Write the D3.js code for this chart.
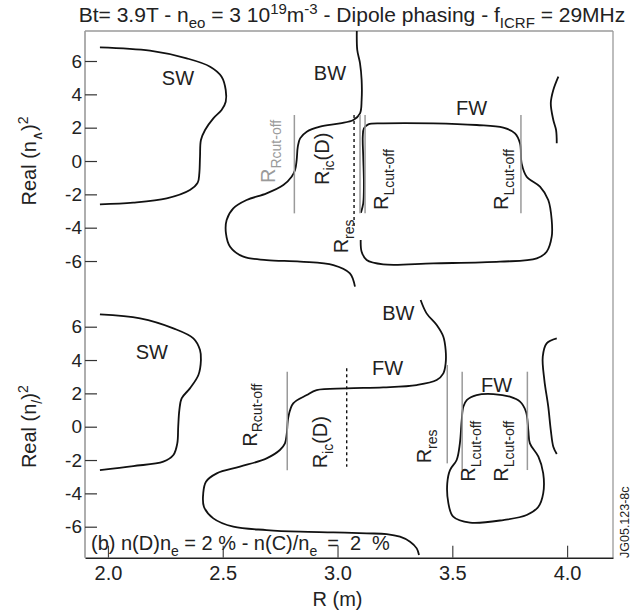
<!DOCTYPE html>
<html>
<head>
<meta charset="utf-8">
<script src="https://cdn.jsdelivr.net/npm/d3@7"></script>
<style>
  body { margin: 0; background: #fff; }
  svg { display: block; font-family: "Liberation Sans", Arial, Helvetica, sans-serif; }
</style>
</head>
<body>
<svg id="chart" width="638" height="614"></svg>
<script>
// Dispersion branches Real(n_perp^2) versus major radius R (m).
// Each branch is a list of [R, Re(n_perp^2)] samples.

// ---- panel (a): pure plasma ----
const swTop = [
  [1.965, 6.82], [2.183, 6.62], [2.343, 6.16], [2.445, 5.66], [2.495, 5.06],
  [2.513, 4.26], [2.513, 3.56], [2.495, 3.06], [2.459, 2.56], [2.423, 1.86],
  [2.405, 1.26], [2.401, 0.26], [2.398, -0.74], [2.391, -1.30], [2.357, -1.74],
  [2.256, -2.24], [2.110, -2.50], [1.965, -2.60]
];
const bwTop = [
  [3.084, 7.80], [3.086, 6.66], [3.098, 5.86], [3.105, 4.86], [3.105, 3.66],
  [3.098, 2.86], [3.069, 2.46], [3.011, 2.26], [2.924, 2.06], [2.866, 1.76],
  [2.837, 1.36], [2.827, 0.86], [2.822, 0.06], [2.815, -0.54], [2.800, -0.94],
  [2.764, -1.44], [2.691, -1.94], [2.604, -2.34], [2.546, -2.84], [2.517, -3.54],
  [2.514, -4.34], [2.532, -5.14], [2.590, -5.74], [2.691, -5.94], [2.837, -6.04],
  [2.982, -6.24], [3.054, -6.74], [3.076, -7.54]
];
const fwTop = [
  [3.102, -3.10], [3.112, -2.54], [3.115, -1.34], [3.112, 0.26], [3.110, 1.46],
  [3.115, 1.96], [3.134, 2.20], [3.199, 2.26], [3.417, 2.26], [3.606, 2.16],
  [3.722, 2.00], [3.773, 1.66], [3.795, 1.06], [3.802, -0.14], [3.824, -0.94],
  [3.882, -1.54], [3.918, -2.34], [3.933, -3.54], [3.933, -4.54], [3.911, -5.44],
  [3.868, -5.84], [3.708, -6.04], [3.417, -6.14], [3.199, -6.20], [3.127, -5.94],
  [3.105, -5.44], [3.101, -4.74]
];
const edgeTop = [
  [3.962, 5.06], [3.940, 4.26], [3.929, 3.46], [3.940, 2.46], [3.952, 1.86], [3.955, 1.06]
];

// ---- panel (b): 2% D, 2% C ----
const swBot = [
  [1.965, 6.74], [2.140, 6.50], [2.285, 5.90], [2.372, 5.30], [2.401, 4.60],
  [2.405, 4.00], [2.394, 3.10], [2.357, 2.30], [2.321, 1.70], [2.311, 1.00],
  [2.306, 0.00], [2.302, -1.00], [2.285, -1.70], [2.241, -2.10], [2.110, -2.36],
  [1.965, -2.60]
];
const bwfwBot = [
  [3.362, 7.60], [3.388, 6.80], [3.432, 6.10], [3.461, 5.40], [3.471, 4.60],
  [3.471, 3.80], [3.461, 3.20], [3.432, 2.80], [3.345, 2.50], [3.199, 2.36],
  [3.040, 2.30], [2.909, 2.20], [2.866, 1.90], [2.807, 1.40], [2.786, 0.60],
  [2.779, -0.40], [2.771, -1.00], [2.749, -1.40], [2.691, -1.90], [2.575, -2.40],
  [2.474, -2.80], [2.427, -3.30], [2.415, -4.00], [2.418, -4.80], [2.459, -5.50],
  [2.546, -6.00], [2.691, -6.20], [2.837, -6.30], [2.982, -6.34], [3.127, -6.40],
  [3.214, -6.44], [3.272, -6.60], [3.316, -6.90], [3.345, -7.30], [3.355, -7.70]
];
const fwLoopBot = [
  [3.563, 1.60], [3.606, 1.90], [3.679, 1.96], [3.751, 1.80], [3.795, 1.50],
  [3.821, 0.90], [3.831, -0.20], [3.838, -1.00], [3.875, -1.80], [3.896, -2.80],
  [3.896, -4.00], [3.875, -4.80], [3.824, -5.30], [3.722, -5.60], [3.577, -5.76],
  [3.504, -5.40], [3.483, -4.60], [3.478, -3.40], [3.490, -2.60], [3.519, -2.00],
  [3.533, -1.00], [3.541, 0.40], [3.548, 1.20]
];
const edgeBot = [
  [3.955, 5.30], [3.911, 5.00], [3.894, 4.20], [3.901, 2.80], [3.918, 1.20],
  [3.929, -0.20], [3.940, -1.20], [3.955, -1.64]
];

// Characteristic layers: [R, n2 from, n2 to]
const cutoffTop = [[2.812, 2.76, -3.14], [3.098, 2.76, -3.14], [3.120, 2.76, -3.14], [3.799, 2.76, -3.14]];
const resonTop = [[3.072, 2.76, -3.94]];
const cutoffBot = [[2.781, 3.30, -2.62], [3.478, 3.70, -2.20], [3.543, 3.30, -2.60], [3.827, 3.30, -2.60]];
const resonBot = [[3.040, 3.50, -2.40]];

const xTicks = [2.0, 2.5, 3.0, 3.5, 4.0];
const yTicks = [-6, -4, -2, 0, 2, 4, 6];

// ---- layout ----
const svg = d3.select("#chart");
const plotLeft = 85, plotRight = 613, plotTop = 31, plotBottom = 557.7;
const x = d3.scaleLinear().domain([1.9, 4.2]).range([plotLeft, plotRight]);
const yA = d3.scaleLinear().domain([-7.9, 7.8]).range([292.7, plotTop]);
const yB = d3.scaleLinear().domain([-7.86, 7.8]).range([plotBottom, 296.7]);

const GRAY = "#9a9a9a";
const FONT = 20;

// frame
svg.append("line").attr("x1", plotLeft).attr("x2", plotRight).attr("y1", plotTop).attr("y2", plotTop)
  .attr("stroke", GRAY).attr("stroke-width", 1.3);
svg.append("line").attr("x1", plotLeft).attr("x2", plotLeft).attr("y1", plotTop).attr("y2", plotBottom)
  .attr("stroke", GRAY).attr("stroke-width", 1.6);
svg.append("line").attr("x1", plotRight).attr("x2", plotRight).attr("y1", plotTop).attr("y2", plotBottom)
  .attr("stroke", GRAY).attr("stroke-width", 1.3);

// x axis with inward ticks
const xAxis = svg.append("g").attr("transform", `translate(0,${plotBottom})`)
  .call(d3.axisBottom(x).tickValues(xTicks).tickSizeInner(-12).tickSizeOuter(0)
    .tickFormat(d3.format(".1f")).tickPadding(8));
xAxis.select(".domain").attr("stroke", "#222").attr("stroke-width", 1.6);
xAxis.selectAll(".tick line").attr("stroke", "#444").attr("stroke-width", 1.2);
xAxis.selectAll(".tick text").attr("font-size", FONT).attr("fill", "#222")
  .attr("font-family", "Liberation Sans, Arial, sans-serif");

// y axes with inward ticks, one per panel
[yA, yB].forEach(y => {
  const g = svg.append("g").attr("transform", `translate(${plotLeft},0)`)
    .call(d3.axisLeft(y).tickValues(yTicks).tickSizeInner(-12).tickSizeOuter(0).tickPadding(3));
  g.select(".domain").remove();
  g.selectAll(".tick line").attr("stroke", "#333").attr("stroke-width", 1.2);
  g.selectAll(".tick text").attr("font-size", 19).attr("fill", "#222")
    .attr("font-family", "Liberation Sans, Arial, sans-serif")
    .attr("x", -3).text(d => d < 0 ? "-" + Math.abs(d) : d);
});

// curves
function branch(data, y, closed) {
  const line = d3.line().x(d => x(d[0])).y(d => y(d[1]))
    .curve(closed ? d3.curveCatmullRomClosed : d3.curveCatmullRom.alpha(0.5));
  svg.append("path").attr("d", line(data)).attr("fill", "none")
    .attr("stroke", "#111").attr("stroke-width", 1.8).attr("stroke-linejoin", "round");
}
branch(swTop, yA); branch(bwTop, yA); branch(fwTop, yA); branch(edgeTop, yA);
branch(swBot, yB); branch(bwfwBot, yB); branch(fwLoopBot, yB, true); branch(edgeBot, yB);

// cut-off (solid gray) and resonance (dashed) layers
function layers(list, y, dashed) {
  svg.selectAll(null).data(list).enter().append("line")
    .attr("x1", d => x(d[0])).attr("x2", d => x(d[0]))
    .attr("y1", d => y(d[1])).attr("y2", d => y(d[2]))
    .attr("stroke", dashed ? "#111" : GRAY)
    .attr("stroke-width", dashed ? 1.4 : 1.5)
    .attr("stroke-dasharray", dashed ? "3,3" : null);
}
layers(cutoffTop, yA, false); layers(resonTop, yA, true);
layers(cutoffBot, yB, false); layers(resonBot, yB, true);

// rich text: parts = [text, "sub"|"sup"|undefined, extra dx]
function rich(t, parts, size) {
  const sub = Math.round(size * 0.72);
  let shift = 0;
  parts.forEach(([s, kind, dx]) => {
    const target = kind === "sub" ? size * 0.28 : kind === "sup" ? -size * 0.38 : 0;
    t.append("tspan").attr("dy", target - shift).attr("dx", dx || 0)
      .attr("font-size", kind ? sub : size).text(s);
    shift = target;
  });
}

// wave names
const waveLabels = [
  ["SW", 2.305, 4.98, yA], ["BW", 2.967, 5.28, yA], ["FW", 3.584, 3.18, yA],
  ["SW", 2.191, 4.50, yB], ["BW", 3.265, 6.80, yB], ["FW", 3.218, 3.50, yB], ["FW", 3.693, 2.50, yB]
];
waveLabels.forEach(([s, r, v, y]) => {
  svg.append("text").attr("x", x(r)).attr("y", y(v)).attr("text-anchor", "middle")
    .attr("dominant-baseline", "central").attr("font-size", FONT).attr("fill", "#222").text(s);
});

// vertical layer names, anchored at the lower end of the baseline
const layerLabels = [
  [[["R"], ["Rcut-off", "sub"]], 2.728, -1.32, yA, GRAY],
  [[["R"], ["ic", "sub"], ["(D)"]], 2.961, -1.44, yA, "#222"],
  [[["R"], ["res", "sub"]], 3.046, -5.54, yA, "#222"],
  [[["R"], ["Lcut-off", "sub"]], 3.221, -2.94, yA, "#222"],
  [[["R"], ["Lcut-off", "sub"]], 3.744, -2.94, yA, "#222"],
  [[["R"], ["Rcut-off", "sub"]], 2.648, -1.20, yB, "#222"],
  [[["R"], ["ic", "sub"], ["(D)"]], 2.954, -2.50, yB, "#222"],
  [[["R"], ["res", "sub"]], 3.407, -2.20, yB, "#222"],
  [[["R"], ["Lcut-off", "sub"]], 3.599, -3.30, yB, "#222"],
  [[["R"], ["Lcut-off", "sub"]], 3.744, -3.30, yB, "#222"]
];
layerLabels.forEach(([parts, r, v, y, col]) => {
  const t = svg.append("text")
    .attr("transform", `translate(${x(r)},${y(v)}) rotate(-90)`)
    .attr("fill", col);
  rich(t, parts, FONT);
});

// title
const title = svg.append("text").attr("x", 352).attr("y", 22).attr("text-anchor", "middle").attr("fill", "#222");
rich(title, [["Bt= 3.9T - n"], ["eo", "sub"], [" = 3 10"], ["19", "sup"], ["m"], ["-3", "sup"],
  [" - Dipole phasing - f"], ["ICRF", "sub"], [" = 29MHz"]], 21);

// y axis titles
[[yA, "∧"], [yB, "/"]].forEach(([y, mark]) => {
  const t = svg.append("text")
    .attr("transform", `translate(36,${y(0)}) rotate(-90)`)
    .attr("text-anchor", "middle").attr("fill", "#222");
  rich(t, [["Real (n"], [mark, "sub"], [")"], ["2", "sup"]], FONT);
});

// x axis title
svg.append("text").attr("x", x(3.0)).attr("y", 606).attr("text-anchor", "middle")
  .attr("font-size", FONT).attr("fill", "#222").text("R (m)");

// panel (b) composition note
const note = svg.append("text").attr("x", 91).attr("y", 550).attr("fill", "#222");
rich(note, [["(b) n(D)n"], ["e", "sub"], [" = 2 % - n(C)/n"], ["e", "sub"], ["=", undefined, 10],
  ["2", undefined, 11], ["%", undefined, 11]], FONT);

// figure reference
svg.append("text").attr("transform", "translate(629,558) rotate(-90)")
  .attr("font-size", 12.5).attr("fill", "#222").text("JG05.123-8c");
</script>
</body>
</html>
